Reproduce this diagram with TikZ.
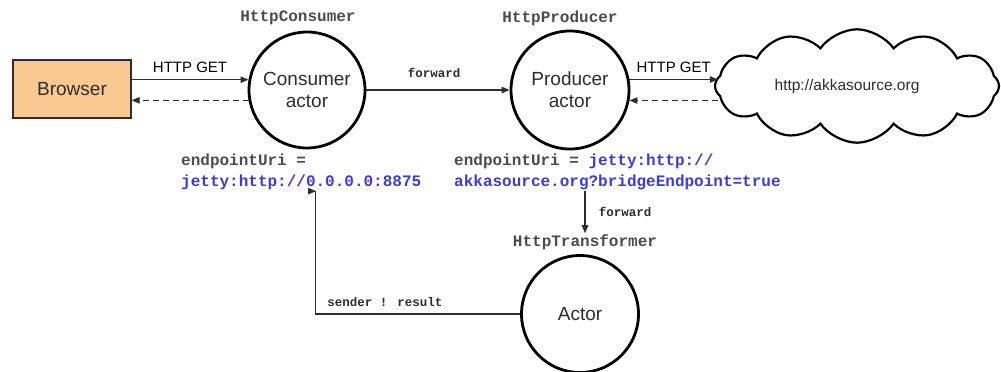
\documentclass[tikz,border=0pt]{standalone}
\usepackage{fontspec}
\setmainfont{Liberation Sans}
\newfontfamily\monof{Liberation Mono}
\usetikzlibrary{shapes.symbols, arrows.meta, positioning}
\definecolor{browserfill}{RGB}{250,200,145}
\definecolor{uriblue}{RGB}{60,60,215}
\definecolor{inkgray}{RGB}{45,45,45}

\begin{document}
\begin{tikzpicture}[x=1pt,y=-1pt, every node/.style={font=\fontsize{19}{22}\selectfont, text=inkgray},
    actor/.style={draw=black, circle, line width=2.8pt, minimum size=116pt, align=center, inner sep=0pt},
    codelbl/.style={font=\monof\bfseries\fontsize{16}{21}\selectfont, text=inkgray!85, inner sep=1pt},
    msglbl/.style={font=\monof\bfseries\fontsize{12.5}{15}\selectfont, text=inkgray},
    getlbl/.style={font=\fontsize{15}{18}\selectfont, text=black},
    arr/.style={-{Triangle[length=8pt,width=6.5pt]}, line width=1.1pt, draw=inkgray},
    back/.style={arr, dash pattern=on 6pt off 4pt}]
    \useasboundingbox (0,0) rectangle (1001,372);
    % nodes
    \node[draw=inkgray, line width=1.3pt, fill=browserfill, minimum width=118pt, minimum height=58pt] (browser) at (72,89) {Browser};
    \node[actor] (cons) at (307,90) {Consumer\\actor};
    \node[actor, minimum size=118pt] (prod) at (570,90) {Producer\\actor};
    \node[draw=black, cloud, cloud puffs=12, cloud puff arc=110, aspect=2.9, line width=2.2pt, minimum width=284pt, minimum height=92pt, font=\fontsize{15.5}{18}\selectfont] (cloud) at (857,86) {http://akkasource.org\hspace*{20pt}};
    \node[actor, minimum size=117pt] (trans) at (580,314) {Actor};
    % labels
    \node[codelbl] (consname) at (298,18) {HttpConsumer};
    \node[codelbl] (prodname) at (560,18) {HttpProducer};
    \node[codelbl] (transname) at (585,242) {HttpTransformer};
    \node[codelbl, anchor=west, align=left] (uricons) at (180,172) {endpointUri =\\\textcolor{uriblue}{jetty:http://0.0.0.0:8875}};
    \node[codelbl, anchor=west, align=left] (uriprod) at (453,172) {endpointUri = \textcolor{uriblue}{jetty:http://}\\\textcolor{uriblue}{akkasource.org?bridgeEndpoint=true}};
    % connectors
    \draw[arr] (browser.east |- cons.170) -- node[getlbl, above=3pt] {HTTP GET} (cons.170);
    \draw[back] (cons.190) -- (browser.east |- cons.190);
    \draw[arr] (cons.east) -- node[msglbl, above=8pt, xshift=-4pt] {forward} (prod.west);
    \draw[arr] (prod.10) -- node[getlbl, above=3pt] {HTTP GET} ([xshift=4pt]cloud.west |- prod.10);
    \draw[back] ([xshift=4pt]cloud.west |- prod.350) -- (prod.350);
    \draw[arr] (transname.north |- uriprod.south) -- node[msglbl, right=10pt] {forward} (transname.north);
    \draw[arr] (trans.west) -- node[msglbl, above=3pt, pos=0.66] {sender ! result} ++(-205,0) |- (uricons.south -| 316,0);
\end{tikzpicture}
\end{document}
